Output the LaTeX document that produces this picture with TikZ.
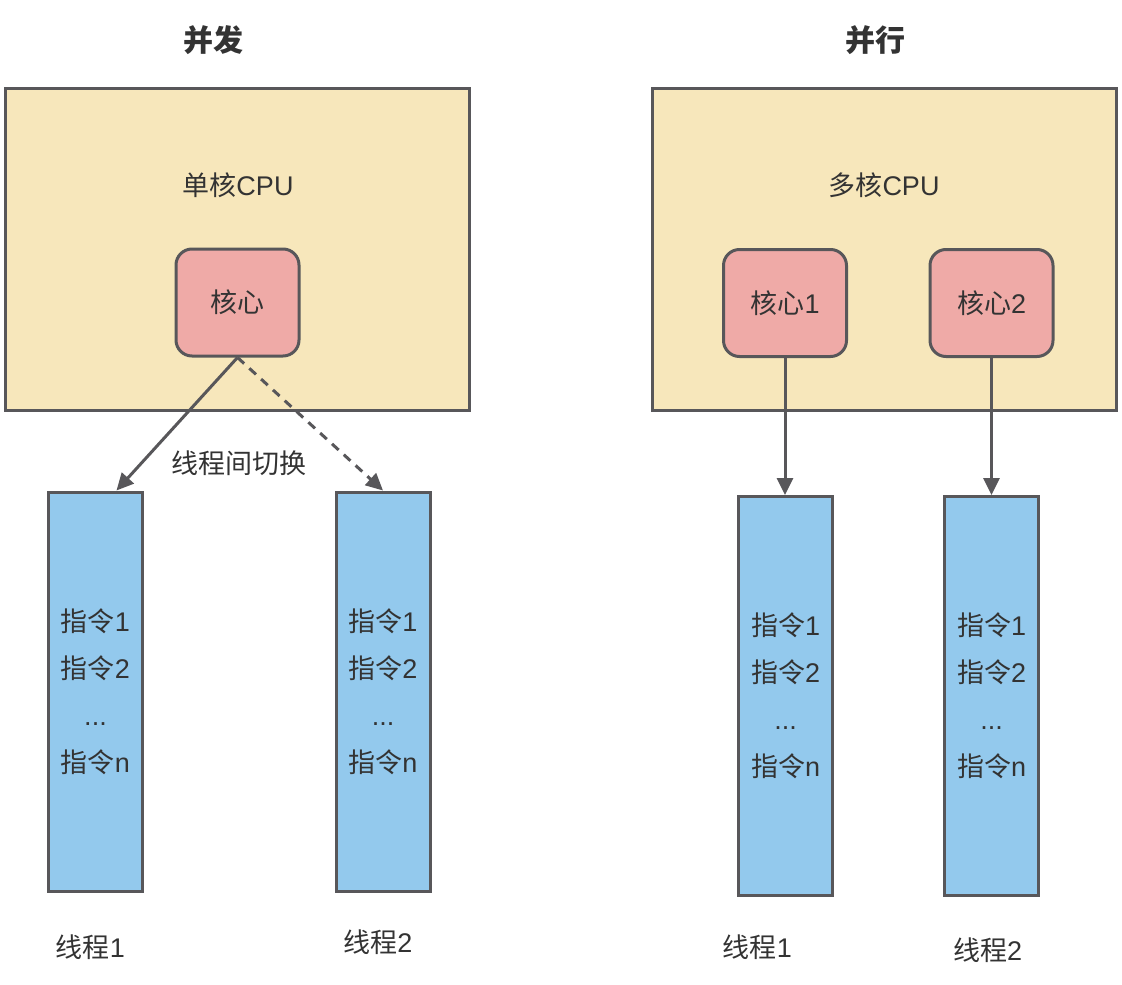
\documentclass[tikz,border=0pt]{standalone}
\usepackage{fontspec}
\setmainfont{Liberation Sans}
\newfontfamily\cjk{Noto Sans CJK SC}
\usetikzlibrary{arrows.meta,positioning,calc}
\definecolor{edgegray}{HTML}{58575A}
\definecolor{textgray}{HTML}{333333}
\definecolor{cpufill}{HTML}{F7E7BB}
\definecolor{corefill}{HTML}{EFAAA7}
\definecolor{threadfill}{HTML}{93C9ED}
\tikzstyle{cpu}=[
	rectangle,
	draw=edgegray,
	line width=3pt,
	fill=cpufill,
	minimum width=464pt,
	minimum height=322pt
]
\tikzstyle{core}=[
	rectangle,
	rounded corners=16pt,
	draw=edgegray,
	line width=3pt,
	fill=corefill,
	text=textgray,
	font=\fontsize{27}{31}\selectfont,
	minimum width=123pt,
	minimum height=107pt
]
\tikzstyle{thread}=[
	rectangle,
	draw=edgegray,
	line width=3pt,
	fill=threadfill,
	text=textgray,
	align=center,
	font=\fontsize{27}{47}\selectfont,
	minimum width=94pt,
	minimum height=399pt
]
\tikzstyle{caption}=[
	text=textgray,
	font=\fontsize{27}{31}\selectfont
]
\tikzstyle{heading}=[
	text=textgray,
	font=\fontsize{30}{33}\selectfont\bfseries
]
\tikzstyle{run}=[
	-{Triangle[length=17pt,width=16pt]},
	line width=3pt,
	draw=edgegray
]
\tikzstyle{switch}=[
	run,
	dash pattern=on 9pt off 7pt
]
\newcommand{\steps}{{\cjk 指令}1\\{\cjk 指令}2\\...\\{\cjk 指令}n}

\begin{document}
\begin{tikzpicture}[x=1pt,y=-1pt]
\useasboundingbox (0,0) rectangle (1122,985);
% concurrency
\node [heading] (TitleConc) at (213,40) {\cjk 并发};
\node [cpu] (SingleCPU) at (237.5,249) {};
\node [caption] (SingleLabel) at (238,185) {{\cjk 单核}CPU};
\node [core] (Core) at (237.5,302.5) {\cjk 核心};
\node [thread] (ThreadA) at (95.5,691.5) {\steps};
\node [thread] (ThreadB) at (383,691.5) {\steps};
\node [caption] (ThreadALabel)[below=39pt of ThreadA, xshift=-5pt] {{\cjk 线程}1};
\node [caption] (ThreadBLabel)[below=34pt of ThreadB, xshift=-5pt] {{\cjk 线程}2};
\draw [run] (Core.south) -- ($(ThreadA.north)+(21,0)$);
\draw [switch] (Core.south) -- (ThreadB.north);
\node [caption] (SwitchLabel) at (239,463) {\cjk 线程间切换};
% parallelism
\node [heading] (TitlePar) at (875,40) {\cjk 并行};
\node [cpu] (MultiCPU) at (884,249) {};
\node [caption] (MultiLabel) at (884,185) {{\cjk 多核}CPU};
\node [core] (CoreOne) at (785,303) {{\cjk 核心}1};
\node [core] (CoreTwo) at (991.5,303) {{\cjk 核心}2};
\node [thread] (ThreadC) at (785.5,696) {\steps};
\node [thread] (ThreadD) at (991.5,696) {\steps};
\node [caption] (ThreadCLabel)[below=34pt of ThreadC, xshift=-28pt] {{\cjk 线程}1};
\node [caption] (ThreadDLabel)[below=37pt of ThreadD, xshift=-4pt] {{\cjk 线程}2};
\draw [run] (CoreOne.south) -- (CoreOne.south |- ThreadC.north);
\draw [run] (CoreTwo.south) -- (CoreTwo.south |- ThreadD.north);
\end{tikzpicture}
\end{document}
